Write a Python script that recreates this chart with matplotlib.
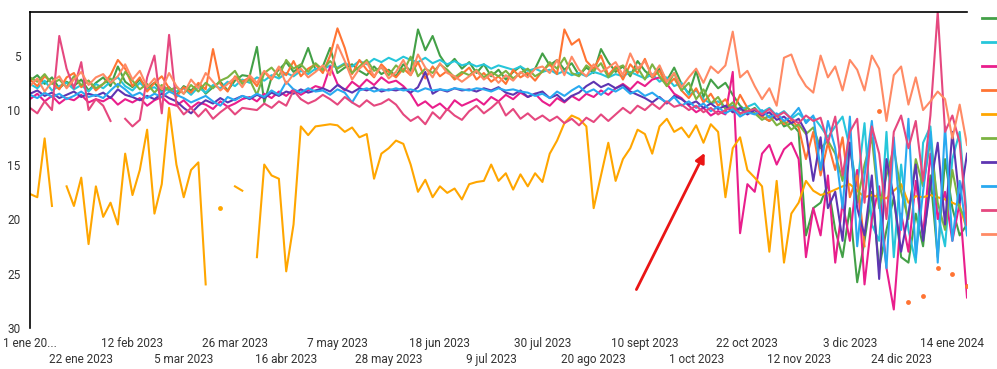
import numpy as np
import pandas as pd
import matplotlib
matplotlib.use('Agg')
import matplotlib.pyplot as plt
from matplotlib.lines import Line2D

plt.rcParams['font.family'] = ['Roboto', 'DejaVu Sans']

nan = np.nan

# one value every 3 days, 1 ene 2023 .. 19 ene 2024
dates = pd.date_range('2023-01-01', periods=129, freq='3D')

green = [7.3, 6.8, 7.6, 7.0, 8.0, 7.4, 7.8, 7.2, 8.2, 7.5,
         7.0, 7.8, 6.0, 7.4, 7.9, 7.2, 8.0, 7.5, 8.3, 7.9,
         8.6, 7.8, 8.2, 7.6, 8.5, 7.9, 7.4, 8.2, 7.3, 6.8,
         6.9, 4.2, 9.3, 7.0, 6.3, 5.6, 6.5, 6.0, 4.3, 6.3,
         6.0, 4.3, 6.6, 6.1, 5.8, 6.4, 6.8, 6.0, 6.7, 6.3,
         6.9, 5.8, 6.4, 2.6, 4.5, 3.2, 5.0, 6.0, 5.3, 6.2,
         5.6, 6.6, 5.8, 6.9, 6.3, 7.2, 6.5, 6.0, 6.8, 6.2,
         4.8, 5.9, 5.4, 6.3, 5.7, 6.8, 6.1, 6.6, 4.4, 5.6,
         6.5, 6.0, 6.9, 5.5, 6.4, 7.0, 6.2, 7.3, 6.1, 7.6,
         8.5, 6.4, 8.8, 7.2, 8.0, 7.5, 8.6, 9.6, 10.2, 9.8,
         10.6, 11.0, 10.4, 11.5, 11.2, 12.0, 21.5, 19.0, 18.5, 16.8,
         21.0, 23.5, 19.0, 25.8, 22.0, 17.5, 24.5, 21.0, 18.0, 23.5,
         24.0, 19.5, 22.5, 16.0, 23.5, 14.5, 19.0, 21.5, 20.5]

cyan = [7.6, 8.0, 7.3, 8.2, 7.8, 7.5, 8.1, 7.7, 8.3, 7.6,
        8.0, 7.4, 7.0, 7.8, 8.2, 7.5, 8.1, 7.9, 8.4, 8.0,
        8.3, 8.0, 8.6, 7.9, 8.4, 7.7, 8.0, 7.4, 7.8, 7.2,
        7.5, 7.0, 7.3, 6.8, 7.1, 6.6, 6.9, 6.4, 6.7, 6.2,
        6.3, 5.9, 6.1, 5.7, 6.0, 5.5, 5.8, 5.3, 5.6, 5.2,
        5.5, 5.1, 5.4, 5.6, 5.2, 5.7, 5.4, 5.8, 5.5, 5.9,
        5.7, 6.0, 5.8, 6.2, 5.9, 6.1, 6.3, 6.0, 6.4, 6.2,
        6.5, 6.3, 6.7, 6.4, 6.8, 6.6, 6.9, 6.5, 6.7, 7.0,
        6.7, 6.9, 6.5, 6.8, 7.1, 6.7, 7.4, 7.0, 7.8, 7.5,
        8.6, 8.2, 9.0, 9.4, 9.2, 9.8, 9.6, 10.0, 9.7, 9.4,
        10.2, 9.8, 10.5, 10.1, 10.8, 10.3, 11.0, 10.6, 11.5, 12.5,
        11.5, 10.6, 13.5, 17.0, 11.2, 20.5, 22.0, 12.0, 23.5, 15.0,
        21.0, 24.0, 13.0, 11.5, 19.5, 22.5, 14.5, 12.0, 20.0]

magenta = [9.0, 8.5, 9.2, 8.7, 9.4, 8.9, 9.1, 8.6, 9.3, 9.0,
           9.2, 8.8, 9.5, 9.0, 9.3, 8.9, 9.6, 9.1, 8.8, 9.4,
           9.6, 9.1, 9.8, 9.3, 9.5, 9.9, 9.2, 9.7, 9.4, 9.0,
           8.8, 9.2, 8.5, 8.9, 8.3, 8.7, 8.1, 8.6, 8.2, 7.8,
           8.0, 6.0, 7.6, 8.2, 7.4, 7.9, 7.2, 7.7, 7.0, 7.5,
           7.3, 7.8, 8.5, 9.6, 9.2, 9.8, 9.4, 10.0, 9.1, 9.6,
           9.3, 9.0, 9.5, 8.8, 9.2, 8.6, 9.0, 8.4, 8.8, 8.5,
           9.2, 9.6, 8.9, 9.3, 8.7, 9.1, 8.5, 8.8, 8.2, 8.6,
           8.0, 7.6, 8.1, 7.4, 7.8, 7.2, 7.0, 7.6, 8.5, 8.9,
           9.6, 10.2, 9.8, 10.5, 10.1, 10.4, 6.5, 21.3, 16.8, 17.5,
           14.0, 13.2, 15.0, 13.6, 13.0, 14.5, 23.5, 19.0, 21.5, 16.0,
           24.0, 18.5, 22.0, 15.5, 26.0, 20.0, 17.0, 24.5, 28.3, 19.5,
           23.0, 16.5, 21.5, 14.0, 20.0, 17.5, 22.0, 18.5, 27.2]

orange = [7.2, 7.8, 6.9, 7.5, 8.1, 7.0, 6.6, 7.9, 7.3, 8.2,
          7.6, 6.8, 5.4, 6.2, 7.8, 7.0, 8.3, 7.5, 6.9, 8.0,
          8.8, 7.9, 8.4, 7.5, 8.1, 4.4, 7.6, 8.3, 6.9, 7.4,
          7.0, 7.8, 6.5, 7.2, 6.1, 6.8, 5.5, 6.9, 6.2, 5.8,
          6.6, 5.0, 2.5, 4.3, 6.7, 5.4, 6.3, 7.0, 5.8, 6.5,
          7.0, 6.2, 6.8, 5.6, 7.1, 6.0, 6.9, 6.4, 7.2, 6.7,
          6.1, 7.2, 6.6, 7.4, 6.9, 7.6, 6.3, 7.0, 6.6, 7.3,
          6.4, 5.8, 6.7, 2.6, 4.0, 3.5, 5.5, 6.2, 5.0, 6.8,
          6.0, 7.2, 5.8, 6.6, 5.3, 7.0, 6.4, 7.8, 7.1, 8.2,
          8.9, 8.0, 9.3, 8.5, 9.6, 9.0, 10.2, 8.6, 9.8, 10.3,
          10.6, 11.0, 10.4, 11.3, 10.9, 11.6, 14.5, 12.0, 16.0, 13.0,
          15.5, 12.5, 18.0, 16.0, 22.5, nan, 10.1, nan, nan, nan,
          27.6, nan, 27.1, nan, 24.5, nan, 25.0, nan, 26.1]

amber = [17.7, 18.0, 12.6, 18.8, nan, 17.0, 18.8, 16.2, 22.3, 17.0,
         19.8, 18.5, 20.5, 14.0, 17.8, 15.5, 11.8, 19.5, 16.8, 9.8,
         15.0, 18.0, 15.5, 14.8, 26.0, nan, 19.0, nan, 17.0, 17.4,
         nan, 23.5, 15.0, 16.0, 16.3, 24.8, 20.5, 11.5, 12.3, 11.5,
         11.4, 11.3, 11.4, 12.0, 11.6, 12.5, 12.2, 16.3, 14.0, 13.5,
         12.8, 13.1, 15.0, 17.5, 16.4, 18.0, 17.0, 17.6, 17.2, 18.2,
         16.8, 16.6, 16.5, 15.0, 16.5, 15.8, 17.3, 15.9, 17.0, 15.8,
         16.6, 14.0, 12.8, 11.2, 10.5, 10.8, 11.5, 19.0, 16.0, 13.0,
         16.5, 14.5, 13.5, 11.8, 12.2, 14.0, 11.5, 10.8, 12.0, 11.6,
         12.5, 11.4, 13.0, 11.3, 12.0, 18.0, 13.5, 12.5, 15.5, 16.2,
         17.0, 23.0, 16.5, 24.0, 19.5, 18.5, 16.5, 17.4, 17.8, 17.6,
         17.3, 17.0, 16.8, 17.4, 18.0, 17.8, 18.0, 18.1, 17.4, 16.8,
         18.5, 17.9, 18.0, 17.8, 18.0, 18.2, 18.5, 18.8, 21.0]

light_green = [7.0, 7.4, 6.7, 7.6, 7.2, 7.9, 6.9, 7.7, 7.3, 8.0,
               7.6, 7.1, 7.9, 6.5, 7.3, 8.1, 7.6, 8.4, 7.7, 8.2,
               7.9, 8.5, 7.7, 8.3, 7.5, 8.0, 7.3, 7.0, 6.4, 7.6,
               7.2, 8.6, 6.6, 6.1, 6.9, 5.4, 6.2, 5.8, 6.5, 5.7,
               6.3, 5.5, 6.2, 5.8, 6.6, 6.0, 5.4, 6.4, 6.1, 6.8,
               5.9, 6.5, 5.1, 6.9, 6.2, 6.6, 5.8, 6.3, 7.0, 6.5,
               6.8, 6.3, 7.0, 6.5, 6.9, 6.4, 7.1, 6.6, 6.2, 6.9,
               6.5, 5.6, 6.2, 5.2, 6.6, 6.9, 5.9, 6.4, 5.7, 7.0,
               6.2, 5.9, 6.7, 6.1, 7.2, 5.8, 6.9, 7.8, 6.6, 8.2,
               7.5, 9.0, 8.1, 9.4, 8.8, 9.9, 9.3, 10.4, 9.8, 10.3,
               10.9, 10.5, 11.4, 11.0, 11.8, 11.3, 12.2, 11.6, 13.5, 12.8,
               14.0, 16.5, 13.0, 18.5, 15.0, 12.5, 19.0, 16.0, 13.5, 17.5,
               20.0, 14.5, 17.0, 12.8, 18.5, 21.0, 15.5, 19.0, 20.2]

purple = [8.5, 8.2, 8.7, 8.4, 8.9, 8.6, 8.3, 8.8, 8.5, 8.7,
          8.4, 8.9, 8.1, 8.6, 8.8, 9.1, 8.7, 9.0, 8.5, 8.9,
          9.2, 9.8, 10.3, 9.6, 9.1, 9.4, 8.9, 9.3, 9.0, 8.7,
          9.0, 8.6, 8.9, 8.4, 8.7, 8.3, 8.5, 8.1, 8.4, 8.2,
          8.0, 8.3, 7.7, 8.1, 8.4, 8.0, 8.2, 7.9, 8.3, 8.1,
          8.2, 8.0, 8.4, 7.9, 6.5, 8.5, 8.1, 8.3, 8.0, 8.2,
          8.1, 8.3, 8.0, 8.2, 7.9, 8.4, 8.6, 8.2, 8.8, 8.5,
          8.3, 8.9, 8.6, 9.2, 8.7, 8.4, 7.8, 7.4, 7.9, 7.6,
          8.0, 7.7, 8.3, 8.6, 8.9, 9.3, 8.8, 9.4, 8.7, 9.0,
          9.5, 9.2, 9.8, 9.4, 9.9, 9.6, 10.2, 9.8, 10.4, 10.0,
          10.5, 10.2, 10.9, 10.6, 11.2, 10.8, 12.0, 16.5, 12.5, 19.0,
          17.5, 22.0, 13.0, 19.0, 21.5, 16.0, 25.5, 14.5, 18.0, 23.0,
          19.5, 15.0, 22.0, 17.0, 13.0, 20.5, 12.0, 18.5, 14.0]

light_blue = [8.6, 8.9, 8.4, 8.8, 8.5, 9.0, 8.7, 8.3, 8.8, 8.6,
              8.9, 8.2, 7.6, 8.1, 8.7, 8.4, 8.9, 8.5, 8.8, 8.3,
              8.6, 8.9, 9.3, 9.0, 8.7, 9.2, 9.6, 8.8, 9.1, 8.7,
              8.9, 8.5, 8.8, 8.2, 8.6, 7.4, 8.1, 8.4, 8.0, 8.3,
              8.2, 8.6, 8.1, 8.4, 9.3, 8.2, 8.0, 8.3, 8.1, 8.2,
              8.0, 8.2, 8.1, 8.3, 8.0, 8.2, 8.1, 8.2, 8.0, 8.1,
              8.2, 8.0, 8.1, 8.3, 8.0, 8.2, 8.1, 8.3, 8.4, 8.7,
              8.5, 8.9, 8.3, 8.7, 8.2, 7.8, 8.4, 8.1, 8.6, 8.0,
              8.3, 7.9, 8.5, 8.2, 8.7, 8.4, 8.9, 9.3, 8.8, 9.6,
              9.2, 9.8, 9.4, 10.1, 9.7, 10.3, 9.9, 10.6, 10.2, 10.4,
              10.0, 10.7, 10.3, 11.0, 10.6, 9.8, 11.2, 10.5, 15.5, 11.0,
              13.5, 19.0, 10.6, 22.5, 16.0, 11.0, 18.5, 24.5, 12.5, 21.0,
              10.8, 23.5, 17.5, 12.0, 24.0, 11.5, 22.0, 16.5, 21.5]

pink = [9.8, 10.3, 9.2, 10.0, 3.2, 6.2, 8.0, 5.6, 10.0, 9.0,
        9.6, 11.0, nan, 10.8, 11.5, 10.9, 7.0, 5.0, 10.3, 3.1,
        9.5, 10.4, 9.8, 10.6, 9.9, 10.8, 10.2, 9.7, 10.4, 9.8,
        9.9, 10.0, 9.4, 9.8, 9.2, 9.6, 8.2, 9.0, 9.4, 9.1,
        8.6, 9.0, 9.5, 8.8, 9.3, 9.7, 9.1, 9.6, 9.4, 9.0,
        9.5, 10.4, 11.0, 10.6, 11.3, 10.2, 10.8, 9.9, 10.5, 10.9,
        10.1, 9.6, 10.3, 9.8, 9.2, 10.5, 9.9, 10.8, 10.3, 10.9,
        10.5, 11.0, 10.6, 11.2, 10.8, 11.4, 10.7, 11.1, 10.4, 11.0,
        10.4, 9.8, 10.3, 9.6, 10.0, 9.4, 9.9, 9.2, 9.7, 9.5,
        10.0, 9.6, 10.2, 9.8, 10.4, 10.0, 9.7, 10.3, 10.1, 9.9,
        10.4, 9.9, 10.6, 10.2, 10.8, 11.2, 10.5, 11.0, 10.7, 13.0,
        10.6, 16.0, 12.0, 10.8, 18.5, 11.5, 14.0, 20.0, 12.0, 10.5,
        13.5, 11.0, 16.5, 10.5, 1.0, 12.0, 10.5, 13.0, 20.5]

salmon = [7.8, 7.1, 8.3, 7.4, 6.9, 8.0, 7.2, 6.5, 7.7, 7.0,
          6.7, 7.5, 6.9, 5.8, 7.2, 6.4, 7.9, 7.1, 8.1, 6.6,
          7.8, 8.5, 7.2, 8.0, 6.6, 7.4, 8.2, 7.6, 7.0, 7.9,
          6.8, 7.5, 6.4, 7.1, 6.0, 7.6, 6.7, 6.2, 7.0, 6.5,
          5.9, 6.8, 4.0, 5.5, 7.2, 6.2, 5.6, 6.9, 6.0, 7.1,
          6.5, 5.4, 6.8, 4.9, 6.1, 7.0, 5.7, 6.6, 6.9, 7.4,
          6.9, 6.4, 7.2, 6.7, 7.5, 6.8, 7.3, 6.5, 7.0, 6.2,
          6.0, 6.6, 5.4, 6.8, 5.1, 6.3, 6.9, 5.8, 6.5, 6.1,
          5.6, 6.8, 4.8, 6.2, 5.5, 6.9, 5.9, 7.4, 6.6, 7.9,
          7.0, 6.2, 7.5, 6.0, 6.6, 5.9, 2.8, 7.0, 6.4, 7.8,
          9.0, 8.0, 9.6, 5.2, 4.9, 6.7, 7.8, 8.4, 5.0, 7.0,
          6.0, 8.2, 5.4, 6.3, 8.2, 5.0, 6.2, 11.0, 6.8, 6.0,
          9.5, 7.0, 10.0, 9.2, 8.3, 9.0, 12.6, 9.5, 13.2]

series = [green, cyan, magenta, orange, amber,
          light_green, purple, light_blue, pink, salmon]
colors = ['#43a047', '#26c6da', '#e91e8c', '#ff7433', '#ffa600',
          '#7cb342', '#5e35b1', '#29a9f0', '#e5487f', '#ff8a65']

tick_dates = pd.date_range('2023-01-01', periods=19, freq='21D')
tick_labels = ['1 ene 20...', '22 ene 2023', '12 feb 2023', '5 mar 2023',
               '26 mar 2023', '16 abr 2023', '7 may 2023', '28 may 2023',
               '18 jun 2023', '9 jul 2023', '30 jul 2023', '20 ago 2023',
               '10 sept 2023', '1 oct 2023', '22 oct 2023', '12 nov 2023',
               '3 dic 2023', '24 dic 2023', '14 ene 2024']

fig = plt.figure(figsize=(9.97, 3.69), dpi=100)
ax = fig.add_axes([30/997, 1 - 328/369, 937/997, 316/369])

for vals, c in zip(series, colors):
    y = np.array(vals, dtype=float)
    ax.plot(dates, y, color=c, lw=1.5, solid_joinstyle='round')
    # points with no neighbour are drawn as dots
    ok = ~np.isnan(y)
    prev = np.r_[False, ok[:-1]]
    nxt = np.r_[ok[1:], False]
    lone = ok & ~prev & ~nxt
    ax.plot(dates[lone], y[lone], 'o', color=c, ms=3.5, mew=0)

ax.set_ylim(30, 1)
ax.set_xlim(pd.Timestamp('2023-01-01'), pd.Timestamp('2024-01-20'))
ax.set_yticks([5, 10, 15, 20, 25, 30])

ax.set_xticks(tick_dates[::2])
ax.set_xticklabels(tick_labels[::2])
ax.set_xticks(tick_dates[1::2], minor=True)
ax.set_xticklabels(tick_labels[1::2], minor=True)
ax.tick_params(axis='both', which='both', length=0, labelsize=8.5, colors='#333333')
ax.tick_params(axis='x', which='major', pad=6.5)
ax.tick_params(axis='x', which='minor', pad=18)
ax.tick_params(axis='y', pad=7)

for s in ['bottom', 'right']:
    ax.spines[s].set_visible(False)
for s in ['top', 'left']:
    ax.spines[s].set_color('black')
    ax.spines[s].set_linewidth(1.2)

ax.annotate('', xy=(pd.Timestamp('2023-10-05'), 13.7),
            xytext=(pd.Timestamp('2023-09-06'), 26.7),
            arrowprops=dict(arrowstyle='-|>', color='#ea1515', lw=2,
                            mutation_scale=14))

handles = [Line2D([], [], color=c, lw=2) for c in colors]
fig.legend(handles, [''] * len(handles), loc='upper left',
           bbox_to_anchor=(982/997, 1 - 12/369), frameon=False,
           fontsize=10, handlelength=1.5, handletextpad=0.3,
           labelspacing=0.72, borderpad=0, borderaxespad=0)

fig.savefig('out.png', dpi=100)
